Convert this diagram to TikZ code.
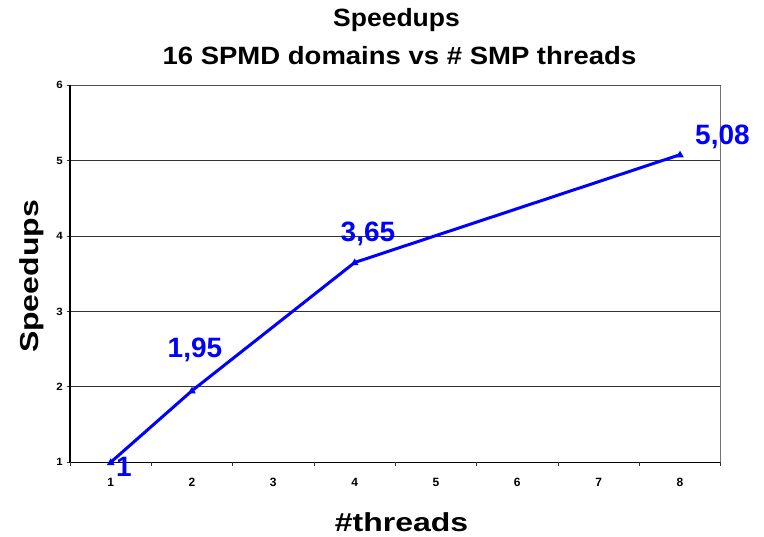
\documentclass[tikz,border=0pt]{standalone}
\usepackage{fontspec}
\usepackage{graphicx}
\setmainfont{Liberation Sans}
\usetikzlibrary{shapes.geometric}
\newcommand\sx[2]{\scalebox{#1}[1]{#2}}
\begin{document}
\begin{tikzpicture}[x=1pt,y=-1pt,
  gridln/.style={line width=1pt, black!80},
  axisln/.style={line width=1.1pt, black},
  borderln/.style={line width=1pt, black!55},
  tickln/.style={line width=0.8pt, black!80},
  xlab/.style={font=\bfseries\fontsize{12}{12}\selectfont, inner sep=0pt, anchor=center},
  ylab/.style={font=\bfseries\fontsize{10.5}{10.5}\selectfont, inner sep=0pt, anchor=east},
  datalab/.style={font=\bfseries\fontsize{28}{28}\selectfont, text=blue, inner sep=0pt, anchor=base west},
  titlefont/.style={font=\bfseries\fontsize{25}{25}\selectfont, inner sep=0pt, anchor=base},
  series/.style={line width=3pt, blue, line join=round},
  mk/.style={regular polygon, regular polygon sides=3, minimum size=9pt, inner sep=0pt, fill=blue, draw=none}
]
\useasboundingbox (0,0) rectangle (764,537);
\fill[white] (0,0) rectangle (764,537);

% plot area corners
\coordinate (pTL) at (70,85.3);
\coordinate (pBL) at (70,462.3);
\coordinate (pTR) at (720.7,85.3);
\coordinate (pBR) at (720.7,462.3);

% gridlines (values 2..5) and ticks
\foreach \v/\y in {2/386.9,3/311.5,4/236.1,5/160.7}{
  \coordinate (gL\v) at (70,\y);
  \coordinate (gR\v) at (720.7,\y);
  \draw[gridln] (gL\v) -- (gR\v);
}
\foreach \v/\y in {1/462.3,2/386.9,3/311.5,4/236.1,5/160.7,6/85.3}{
  \coordinate (yt\v) at (66.5,\y);
  \coordinate (ya\v) at (70,\y);
  \draw[tickln] (yt\v) -- (ya\v);
  \node[ylab] (yl\v) at (63,\y) {\sx{1.1}{\v}};
}
% border
\draw[borderln] (pTR) -- (pBR);
\draw[line width=1.3pt, black!70] (pTL) -- (pTR);
% axes
\draw[axisln] (pTL) -- (pBL) -- (pBR);
% x ticks
\foreach \k in {0,...,8}{
  \coordinate (xa\k) at ({70+81.33*\k},462.3);
  \coordinate (xt\k) at ({70+81.33*\k},466);
  \draw[tickln] (xa\k) -- (xt\k);
}
\foreach \k in {1,...,8}{
  \node[xlab] (xl\k) at ({70+81.33*(\k-0.5)},482.5) {\k};
}

% data series
\coordinate (d1) at (110.7,462.3);
\coordinate (d2) at (192,390.7);
\coordinate (d4) at (354.7,262.5);
\coordinate (d8) at (680,154.7);
\draw[series] (d1) -- (d2) -- (d4) -- (d8);
\foreach \p in {d1,d2,d4,d8}{
  \node[mk] (m\p) at ([yshift=-0.5pt]\p) {};
}

% data labels
\node[datalab] (l1) at (116,477) {1};
\node[datalab] (l2) at (167.5,358) {1,95};
\node[datalab] (l4) at (340.5,241.7) {3,65};
\node[datalab] (l8) at (695,145) {5,08};

% titles
\node[titlefont] (t1) at (396.5,27) {\sx{1.06}{Speedups}};
\node[titlefont] (t2) at (399.5,65) {\sx{1.10}{16 SPMD domains vs \# SMP threads}};
\node[titlefont, font=\bfseries\fontsize{26}{26}\selectfont] (xt) at (401.5,532) {\sx{1.23}{\#threads}};
\node[titlefont, font=\bfseries\fontsize{26}{26}\selectfont, rotate=90] (yt) at (38,276.5) {\sx{1.23}{Speedups}};
\end{tikzpicture}
\end{document}
